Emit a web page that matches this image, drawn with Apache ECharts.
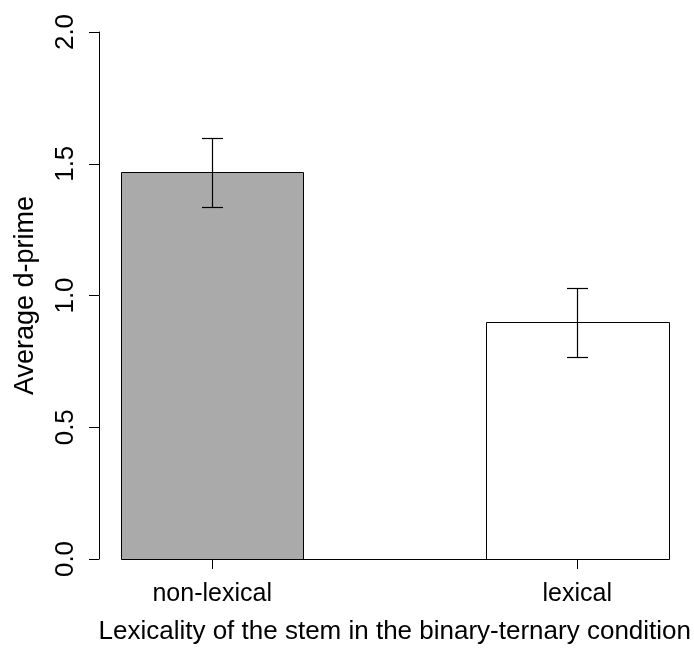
<!DOCTYPE html>
<html>
<head>
<meta charset="utf-8">
<script src="https://cdn.jsdelivr.net/npm/echarts@6/dist/echarts.min.js"></script>
<style>html,body{margin:0;padding:0;background:#fff;}#c{width:694px;height:650px;}</style>
</head>
<body>
<div id="c"></div>
<script>
var categories = ['non-lexical', 'lexical'];
var barLeft = [1, 3];
var values = [1.47, 0.90];
var errLow = [1.337, 0.768];
var errHigh = [1.598, 1.028];
var barColors = ['#aaaaaa', '#ffffff'];
var yTicks = [0, 0.5, 1.0, 1.5, 2.0];

var barData = categories.map(function (c, i) { return [barLeft[i], barLeft[i] + 1, values[i], i]; });
var errData = categories.map(function (c, i) { return [barLeft[i] + 0.5, errLow[i], errHigh[i]]; });
var centers = barLeft.map(function (b) { return b + 0.5; });

var chart = echarts.init(document.getElementById('c'), null, { renderer: 'canvas' });
var FONT = 'Liberation Sans, Arial, Helvetica, sans-serif';
function px(v) { return Math.round(v) + 0.5; }
chart.setOption({
  animation: false,
  backgroundColor: '#ffffff',
  grid: { left: 99, top: 32, width: 596, height: 533, containLabel: false },
  xAxis: {
    type: 'value', min: 0.88, max: 4.12,
    splitLine: { show: false },
    axisLine: { show: false },
    axisTick: { show: true, length: 10, customValues: centers, lineStyle: { color: '#000', width: 1 } },
    axisLabel: {
      show: true, customValues: centers, margin: 23,
      fontSize: 25, color: '#000', fontFamily: FONT,
      formatter: function (v) {
        var i = centers.indexOf(v);
        return i >= 0 ? categories[i] : '';
      }
    },
    name: 'Lexicality of the stem in the binary-ternary condition',
    nameLocation: 'middle', nameGap: 60,
    nameTextStyle: { fontSize: 26, color: '#000', fontFamily: FONT }
  },
  yAxis: {
    type: 'value', min: 0, max: 2, interval: 0.5,
    splitLine: { show: false },
    axisLine: { show: true, lineStyle: { color: '#000', width: 1 } },
    axisTick: { show: true, length: 10, lineStyle: { color: '#000', width: 1 } },
    axisLabel: {
      rotate: 90, margin: 20, fontSize: 26, color: '#000', fontFamily: FONT,
      formatter: function (v) { return v.toFixed(1); }
    },
    name: 'Average d-prime', nameLocation: 'middle', nameGap: 60, nameRotate: 90,
    nameTextStyle: { fontSize: 27, color: '#000', fontFamily: FONT }
  },
  series: [
    {
      type: 'custom',
      renderItem: function (params, api) {
        var p0 = api.coord([api.value(0), 0]);
        var p1 = api.coord([api.value(1), api.value(2)]);
        var x0 = px(p0[0]), x1 = px(p1[0]), y0 = px(p0[1]), y1 = px(p1[1]);
        return {
          type: 'rect',
          shape: { x: x0, y: y1, width: x1 - x0, height: y0 - y1 },
          style: { fill: barColors[api.value(3)], stroke: '#000', lineWidth: 1 }
        };
      },
      data: barData,
      encode: { x: [0, 1], y: 2 },
      z: 2
    },
    {
      type: 'custom',
      renderItem: function (params, api) {
        var a = api.coord([centers[0], 0]);
        var b = api.coord([centers[centers.length - 1], 0]);
        var y = px(a[1]);
        return { type: 'line', shape: { x1: px(a[0]), y1: y, x2: px(b[0]), y2: y }, style: { stroke: '#000', lineWidth: 1 } };
      },
      data: [[centers[0], 0]],
      encode: { x: 0, y: 1 },
      z: 3
    },
    {
      type: 'custom',
      renderItem: function (params, api) {
        var lo = api.coord([api.value(0), api.value(1)]);
        var hi = api.coord([api.value(0), api.value(2)]);
        var x = px(lo[0]);
        var cap = 10.5;
        var ylo = px(lo[1]), yhi = px(hi[1]);
        var st = { stroke: '#000', lineWidth: 1.2 };
        return {
          type: 'group',
          children: [
            { type: 'line', shape: { x1: x, y1: ylo, x2: x, y2: yhi }, style: st },
            { type: 'line', shape: { x1: x - cap, y1: ylo, x2: x + cap, y2: ylo }, style: st },
            { type: 'line', shape: { x1: x - cap, y1: yhi, x2: x + cap, y2: yhi }, style: st }
          ]
        };
      },
      data: errData,
      encode: { x: 0, y: [1, 2] },
      z: 4
    }
  ]
});
</script>
</body>
</html>
